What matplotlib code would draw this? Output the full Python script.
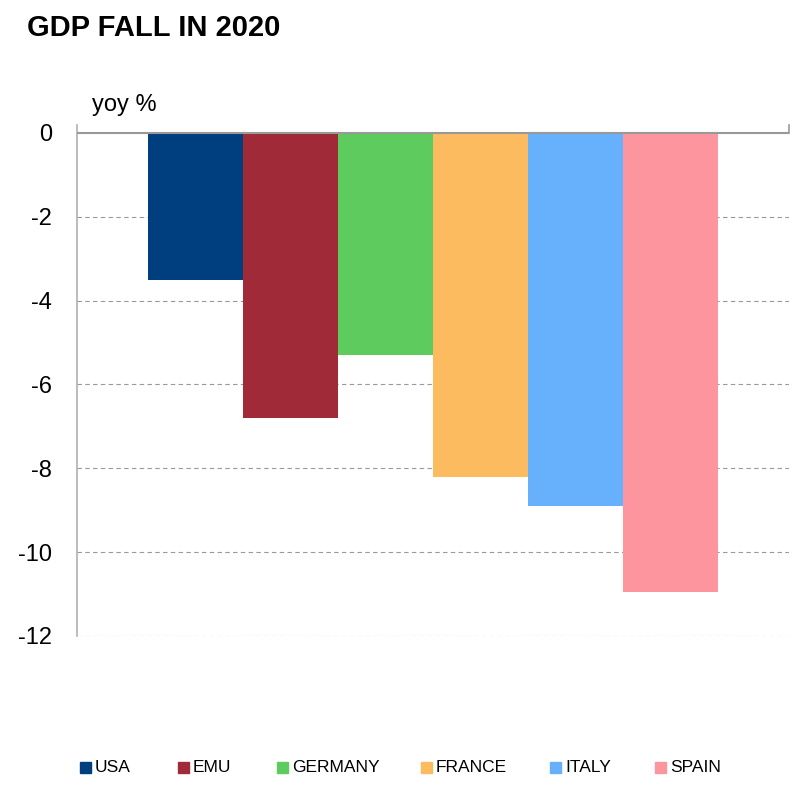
import matplotlib
matplotlib.use('Agg')
import matplotlib.pyplot as plt
from matplotlib.patches import Rectangle

countries = ['USA', 'EMU', 'GERMANY', 'FRANCE', 'ITALY', 'SPAIN']
gdp_fall = [-3.5, -6.8, -5.3, -8.2, -8.9, -10.95]
colors = ['#003f7f', '#a12a39', '#5ecb5e', '#fdbb5f', '#67b1fc', '#fd959f']
yticks = [0, -2, -4, -6, -8, -10, -12]

plt.rcParams['font.family'] = ['Liberation Sans', 'DejaVu Sans']

fig = plt.figure(figsize=(7.98, 7.86), dpi=100)
ax = fig.add_axes([77/798, 1-636/786, (789-77)/798, (636-125)/786])

bw = 95/712
x0 = (148-77)/712
for i, (c, v, col) in enumerate(zip(countries, gdp_fall, colors)):
    ax.bar(x0 + bw*i, v, width=bw, align='edge', color=col, label=c, zorder=3)

ax.set_xlim(0, 1)
ax.set_ylim(-12, 0.19)
ax.set_yticks(yticks)
ax.set_yticklabels([str(t) for t in yticks], fontsize=17)
ax.tick_params(axis='y', length=0, pad=18)
ax.set_xticks([])
for t in yticks[1:]:
    ax.axhline(t, color='#999999', lw=0.8, ls=(0, (4, 3)), zorder=1)
ax.axhline(0, color='#999999', lw=1.5, zorder=4)

for s in ['top', 'bottom']:
    ax.spines[s].set_visible(False)
ax.spines['left'].set_color('#b0b0b0')
ax.spines['left'].set_linewidth(1.2)
ax.spines['right'].set_color('#999999')
ax.spines['right'].set_linewidth(1.2)
ax.spines['right'].set_bounds(0, 0.19)

fig.text(92/798, 1-105/786, 'yoy %', fontsize=17, va='center', ha='left')
fig.text(27/798, 1-28/786, 'GDP FALL IN 2020', fontsize=21, fontweight='bold',
         va='center', ha='left')

# legend, laid out by hand along the bottom
leg_x = [80, 178, 277, 421, 550, 655]
leg_y = 767
for lx, c, col in zip(leg_x, countries, colors):
    fig.add_artist(Rectangle((lx/798, 1-(leg_y+6)/786), 11/798, 11/786,
                             transform=fig.transFigure, color=col))
    fig.text((lx+15)/798, 1-leg_y/786, c, fontsize=12.5, va='center', ha='left')

fig.savefig('out.png', dpi=100)
